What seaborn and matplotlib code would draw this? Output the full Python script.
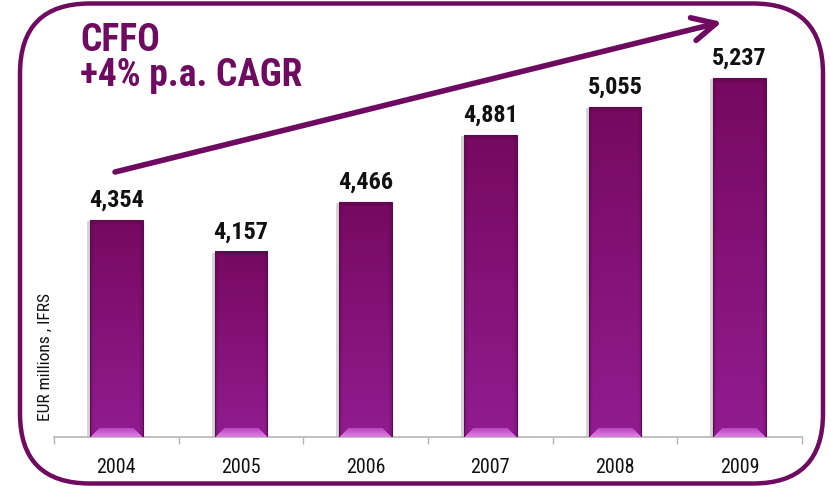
import matplotlib
matplotlib.use('Agg')
import matplotlib.pyplot as plt
import matplotlib.patheffects as pe
from matplotlib.patches import FancyBboxPatch, Rectangle
from matplotlib import font_manager
from matplotlib.colors import to_rgb
import seaborn as sns
import numpy as np
import pandas as pd

years = ['2004', '2005', '2006', '2007', '2008', '2009']
cffo = [4354, 4157, 4466, 4881, 5055, 5237]
value_labels = ['4,354', '4,157', '4,466', '4,881', '5,055', '5,237']
title_text = 'CFFO\n+4% p.a. CAGR'
ylabel_text = 'EUR millions , IFRS'

PURPLE = '#6e0a5f'

sns.set_theme(style='white')
names = {f.name for f in font_manager.fontManager.ttflist}
fams = [f for f in ['Liberation Sans Narrow', 'Roboto Condensed', 'Archivo Narrow', 'Liberation Sans'] if f in names]
plt.rcParams['font.family'] = fams[:1] + ['DejaVu Sans']

fig = plt.figure(figsize=(8.31, 4.90), dpi=100)
fig.patch.set_facecolor('white')
ax = fig.add_axes([54 / 831, 53 / 490, 748 / 831, 418 / 490])
ax.set_facecolor('none')

df = pd.DataFrame({'year': years, 'cffo': cffo})
sns.barplot(data=df, x='year', y='cffo', color='#820e72', width=0.425,
            saturation=1, ax=ax, zorder=3)

ymin = 3005
ymax = ymin + 418 / 0.1608
ax.set_ylim(ymin, ymax)
ax.set_xlim(-0.5, 5.5)

# gradient / bevel fill for each bar (visible part only)
top_c = np.array(to_rgb('#770960'))
bot_c = np.array(to_rgb('#921c90'))
bev_top = np.array(to_rgb('#b849bd'))
bev_bot = np.array(to_rgb('#e07fe4'))
for p in list(ax.patches):
    x0, y0 = p.get_x(), p.get_y()
    w, h = p.get_width(), p.get_height()
    yb = max(y0, ymin)
    yt = y0 + h
    (px0, py0), (px1, py1) = ax.transData.transform([(x0, yb), (x0 + w, yt)])
    H = max(int(round(py1 - py0)), 2)
    W = max(int(round(px1 - px0)), 2)
    t = np.linspace(0, 1, H)[:, None, None]
    img = top_c * (1 - t) + bot_c * t
    img = np.repeat(img, W, axis=1)
    cols = np.arange(W)
    edge = np.minimum(cols, W - 1 - cols)
    shade = np.where(edge < 4, 0.86 + 0.035 * edge, 1.0)
    img = img * shade[None, :, None]
    for r in range(min(4, H)):
        img[r, r:W - r] *= 0.9
    bb = min(9, H)
    for k in range(bb):
        r = H - bb + k
        inset = bb - k
        frac = k / max(bb - 1, 1)
        img[r, inset:W - inset] = bev_top * (1 - frac) + bev_bot * frac
    img = np.clip(img, 0, 1)
    p.set_visible(False)
    shadow = Rectangle((x0, yb), w, yt - yb, facecolor='#8a8a8a', edgecolor='none',
                       alpha=0.35, zorder=2.5,
                       transform=ax.transData + matplotlib.transforms.ScaledTranslation(-3 / 100, -1 / 100, fig.dpi_scale_trans))
    ax.add_patch(shadow)
    ax.imshow(img, extent=(x0, x0 + w, yb, yt), aspect='auto',
              interpolation='bilinear', zorder=3.5)
    ax.add_patch(Rectangle((x0, yb), w, yt - yb, fill=False, edgecolor='#5c0a52',
                           linewidth=0.8, zorder=3.6))

ax.set_ylim(ymin, ymax)
ax.set_xlim(-0.5, 5.5)

cont = ax.containers[0]
for bar, lab in zip(cont, value_labels):
    ax.annotate(lab, xy=(bar.get_x() + bar.get_width() / 2, bar.get_y() + bar.get_height()),
                xytext=(0, 6), textcoords='offset points', ha='center', va='bottom',
                fontsize=17.5, fontweight='bold', color='#111111', zorder=5)

for s in ['top', 'right', 'left']:
    ax.spines[s].set_visible(False)
ax.spines['bottom'].set_color('#b5b5b5')
ax.spines['bottom'].set_linewidth(1.2)
ax.set_yticks([])
ax.set_ylabel('')
ax.set_xlabel('')
ax.set_xticks(range(len(years)))
ax.set_xticklabels(years)
ax.set_xticks(np.arange(-0.5, len(years), 1.0), minor=True)
ax.tick_params(axis='x', which='major', length=0, pad=15, labelsize=14.5, labelcolor='#111111')
ax.tick_params(axis='x', which='minor', length=5, width=1, color='#b5b5b5', direction='out', bottom=True)

fig.text(45 / 831, 1 - 357 / 490, ylabel_text, rotation=90, fontsize=12.5,
         ha='center', va='center', color='#111111')

fig.text(80 / 831, 1 - 22 / 490, title_text, color=PURPLE, fontsize=27,
         fontweight='bold', ha='left', va='top', linespacing=0.92)

border = FancyBboxPatch((0.20, 0.065), 8.03, 4.80,
                        boxstyle='round,pad=0,rounding_size=0.7',
                        transform=fig.dpi_scale_trans, fill=False,
                        edgecolor=PURPLE, linewidth=3.2, zorder=0)
fig.patches.append(border)

ax.annotate('', xy=(722, 468), xytext=(115, 318),
            xycoords='figure pixels', textcoords='figure pixels',
            arrowprops=dict(arrowstyle='->,head_length=1.4,head_width=0.7',
                            mutation_scale=12, color=PURPLE, lw=4,
                            shrinkA=0, shrinkB=0),
            annotation_clip=False, zorder=6)

fig.savefig('out.png', dpi=100)
